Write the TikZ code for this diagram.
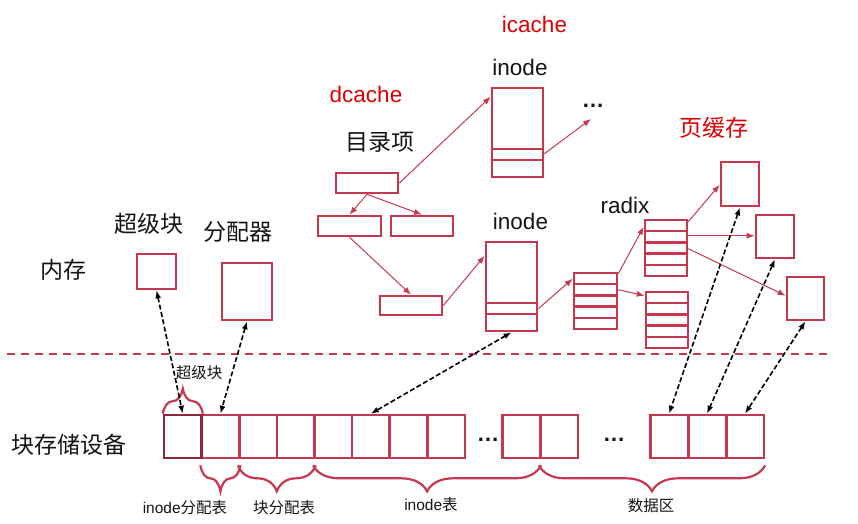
\documentclass[tikz,border=0pt]{standalone}
\usepackage{fontspec}
\setmainfont{Liberation Sans}
\newfontfamily\cjk{Noto Sans CJK SC}
\usetikzlibrary{arrows.meta,decorations.pathreplacing}
\definecolor{boxred}{RGB}{198,56,80}
\definecolor{darkcell}{RGB}{140,40,60}
\definecolor{titlered}{RGB}{220,0,0}
\definecolor{textblack}{RGB}{20,20,20}

\tikzset{
  box/.style={draw=boxred, line width=2.6pt, inner sep=0pt},
  cell/.style={box, minimum width=37.6pt, minimum height=43pt},
  split/.style={draw=boxred, line width=2.3pt},
  ptr/.style={draw=boxred, line width=1pt, -{Latex[length=8pt,width=6pt]}},
  sync/.style={black, line width=1.6pt, dash pattern=on 5pt off 2.5pt,
    {Latex[length=8pt,width=6pt]}-{Latex[length=8pt,width=6pt]}},
  brc/.style={draw=boxred, line width=2.2pt, decorate, decoration={brace, amplitude=#1}},
  biglbl/.style={inner sep=0pt, text=textblack, font=\fontsize{22.5}{27}\selectfont},
  bigcjk/.style={inner sep=0pt, text=textblack, font=\cjk\fontsize{23}{28}\selectfont},
  smalllbl/.style={inner sep=0pt, text=textblack, font=\fontsize{15.5}{19}\selectfont},
  smallcjk/.style={inner sep=0pt, text=textblack, font=\cjk\fontsize{15.5}{19}\selectfont},
  cachelbl/.style={biglbl, text=titlered},
  dotslbl/.style={biglbl, font=\bfseries\fontsize{22.5}{27}\selectfont},
}

\begin{document}
\begin{tikzpicture}[x=1pt, y=-1pt]
  \useasboundingbox (0,0) rectangle (858,523);

  % labels
  \node[cachelbl] (icache) at (534.5,24.5) {icache};
  \node[cachelbl] (dcache) at (366,94) {dcache};
  \node[bigcjk, text=titlered] (pagelbl) at (714,128) {页缓存};
  \node[biglbl] (inolbl1) at (520,67.5) {inode};
  \node[biglbl] (inolbl2) at (520.5,221) {inode};
  \node[biglbl] (rdxlbl) at (625,205) {radix};
  \node[bigcjk] (dentlbl) at (380,142) {目录项};
  \node[bigcjk] (sblbl) at (149,224) {超级块};
  \node[bigcjk] (alloclbl) at (237.5,232) {分配器};
  \node[bigcjk] (memlbl) at (63,270) {内存};
  \node[bigcjk] (devlbl) at (69,445) {块存储设备};

  % memory side
  \node[box, minimum width=39pt, minimum height=35pt] (sbm) at (156.5,271.5) {};
  \node[box, minimum width=50pt, minimum height=57pt] (alloc) at (247,291.5) {};

  % dentries
  \node[box, minimum width=62pt, minimum height=20pt] (d0) at (367,183) {};
  \node[box, minimum width=63pt, minimum height=20pt] (d1) at (349.5,226) {};
  \node[box, minimum width=62pt, minimum height=20pt] (d2) at (422,226) {};
  \node[box, minimum width=62pt, minimum height=19pt] (d3) at (411,305.5) {};

  % inodes
  \node[box, minimum width=51pt, minimum height=89pt] (ino1) at (517.5,132.5) {};
  \node[box, minimum width=51pt, minimum height=89pt] (ino2) at (511.5,286.5) {};
  \foreach \n in {ino1,ino2} {
    \draw[split] ([yshift=-62pt]\n.north west) -- ([yshift=-62pt]\n.north east);
    \draw[split] ([yshift=-73pt]\n.north west) -- ([yshift=-73pt]\n.north east);
  }
  \node[dotslbl] (dots1) at (593,106) {…};
  \coordinate (dots1end) at (591,119);

  % radix tree
  \node[box, minimum width=43pt, minimum height=56pt] (rdx1) at (595.5,301) {};
  \node[box, minimum width=42pt, minimum height=56pt] (rdx2) at (666,248) {};
  \node[box, minimum width=42pt, minimum height=56pt] (rdx3) at (667,320) {};
  \foreach \r in {rdx1,rdx2,rdx3}
    \foreach \k in {1,...,4}
      \draw[split] ([yshift=-1.3pt-\k*11.2pt]\r.north west) -- ([yshift=-1.3pt-\k*11.2pt]\r.north east);

  % pages
  \node[box, minimum width=38pt, minimum height=44pt] (pg1) at (740,184) {};
  \node[box, minimum width=38pt, minimum height=43pt] (pg2) at (775,236.5) {};
  \node[box, minimum width=37pt, minimum height=43pt] (pg3) at (805.5,298.5) {};

  % pointers
  \draw[ptr] (d0.east) -- ([yshift=-10pt]ino1.north west);
  \draw[ptr] ([yshift=-67pt]ino1.north east) -- (dots1end);
  \draw[ptr] (d0.south) -- (d1.north);
  \draw[ptr] (d0.south) -- (d2.north);
  \draw[ptr] (d1.south) -- (d3.north);
  \draw[ptr] (d3.east) -- ([yshift=-15pt]ino2.north west);
  \draw[ptr] ([yshift=-68pt]ino2.north east) -- ([yshift=-7pt]rdx1.north west);
  \draw[ptr] ([yshift=-2pt]rdx1.north east) -- ([yshift=-8pt]rdx2.north west);
  \draw[ptr] ([yshift=-18pt]rdx1.north east) -- ([yshift=-5pt]rdx3.north west);
  \draw[ptr] ([yshift=-3pt]rdx2.north east) -- ([yshift=-24pt]pg1.north west);
  \draw[ptr] ([yshift=-17pt]rdx2.north east) -- ([yshift=-22pt]pg2.north west);
  \draw[ptr] ([yshift=-30pt]rdx2.north east) -- ([yshift=-20pt]pg3.north west);

  % memory / disk border
  \coordinate (sepL) at (7,354);
  \coordinate (sepR) at (832,354);
  \draw[boxred, line width=1.4pt, dash pattern=on 8pt off 6pt] (sepL) -- (sepR);

  % disk blocks
  \foreach \i in {2,...,8}
    \node[cell] (c\i) at ({164+37.6*(\i-0.5)},436.5) {};
  \node[cell, draw=darkcell] (c1) at (182.8,436.5) {};
  \node[cell] (e1) at (521,436.5) {};
  \node[cell] (e2) at (559,436.5) {};
  \node[cell] (f1) at (669,436.5) {};
  \node[cell] (f2) at (707,436.5) {};
  \node[cell] (f3) at (745,436.5) {};
  \node[dotslbl] (dots2) at (488,440) {…};
  \node[dotslbl] (dots3) at (614,440) {…};

  % braces
  \draw[brc=25pt] (c1.north west) -- (c1.north east);
  \draw[brc=26pt] ([yshift=-6pt]c2.south east) -- ([yshift=-6pt]c2.south west);
  \draw[brc=26pt] ([yshift=-6pt]c4.south east) -- ([yshift=-6pt]c3.south west);
  \draw[brc=26pt] ([yshift=-6pt]e1.south east) -- ([yshift=-6pt]c5.south west);
  \draw[brc=26pt] ([yshift=-6pt]f3.south east) -- ([yshift=-6pt]e2.south west);
  \node[smallcjk] (sbdisk) at (199,373) {超级块};
  \node[smalllbl] (imaplbl) at (185,508) {inode{\cjk 分配表}};
  \node[smallcjk] (bmaplbl) at (284,508) {块分配表};
  \node[smalllbl] (itbllbl) at (431,505) {inode{\cjk 表}};
  \node[smallcjk] (datalbl) at (651,506) {数据区};

  % cache <-> disk
  \draw[sync] (sbm.south) -- (c1.north);
  \draw[sync] (alloc.south) -- (c2.north);
  \draw[sync] (ino2.south) -- (c6.north);
  \draw[sync] (pg1.south) -- (f1.north);
  \draw[sync] (pg2.south) -- (f2.north);
  \draw[sync] (pg3.south) -- (f3.north);
\end{tikzpicture}
\end{document}
